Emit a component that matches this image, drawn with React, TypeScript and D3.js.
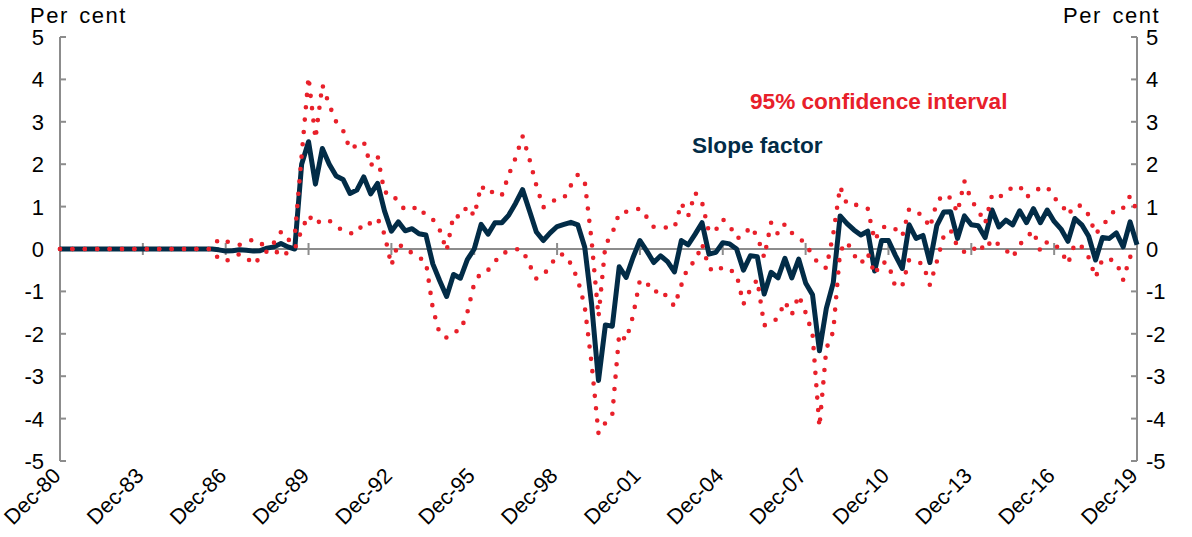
import React from 'react';
import * as d3 from 'd3';

const tickLabels = ['Dec-80','Dec-83','Dec-86','Dec-89','Dec-92','Dec-95','Dec-98','Dec-01','Dec-04','Dec-07','Dec-10','Dec-13','Dec-16','Dec-19'];
const yTicks = [5,4,3,2,1,0,-1,-2,-3,-4,-5];

const slopeFactor = [
  0,0,0,0,0,0,0,0,0,0,
  0,0,0,0,0,0,0,0,0,0,
  0,0,0,-0.02,-0.05,-0.04,-0.02,-0.03,-0.05,-0.04,
  0.02,0.05,0.13,0.05,0.0,2.0,2.53,1.53,2.37,2.0,
  1.72,1.64,1.31,1.39,1.70,1.3,1.55,0.9,0.42,0.64,
  0.43,0.48,0.36,0.33,-0.35,-0.75,-1.12,-0.6,-0.69,-0.25,
  0.0,0.58,0.35,0.62,0.62,0.8,1.08,1.4,0.9,0.4,
  0.2,0.38,0.53,0.58,0.63,0.57,0.05,-1.3,-3.1,-1.79,
  -1.82,-0.42,-0.67,-0.2,0.2,-0.05,-0.32,-0.16,-0.3,-0.54,
  0.2,0.1,0.35,0.62,-0.12,-0.08,0.15,0.12,0.0,-0.5,
  -0.16,-0.18,-1.06,-0.55,-0.68,-0.22,-0.68,-0.24,-0.8,-1.08,
  -2.4,-1.4,-0.8,0.78,0.6,0.45,0.33,0.42,-0.52,0.2,
  0.2,-0.15,-0.46,0.57,0.25,0.32,-0.32,0.55,0.87,0.88,
  0.25,0.78,0.57,0.55,0.27,0.92,0.52,0.68,0.57,0.9,
  0.62,0.95,0.62,0.92,0.65,0.47,0.18,0.72,0.57,0.3,
  -0.26,0.27,0.25,0.38,0.05,0.64,0.1
];

const upperBand = [
  0,0,0,0,0,0,0,0,0,0,
  0,0,0,0,0,0,0,0,0,0,
  0,0,0,0.24,0.18,0.15,0.1,0.15,0.23,0.12,
  0.1,0.15,0.4,0.2,0.3,2.2,4.06,2.6,3.87,3.4,
  3.0,2.8,2.35,2.45,2.53,1.96,2.2,1.33,1.33,1.1,
  0.92,0.95,1.0,0.78,0.7,0.45,-0.04,0.8,0.75,1.01,
  0.78,1.5,1.3,1.38,1.27,1.75,2.15,2.66,2.12,1.5,
  0.98,1.1,1.18,1.2,1.5,1.75,1.6,0.2,-1.6,0.1,
  0.37,0.85,0.88,0.9,0.96,0.75,0.52,0.53,0.5,0.5,
  1.08,0.78,1.33,1.1,0.4,0.45,0.7,0.55,0.25,0.3,
  0.53,0.3,-0.2,0.62,0.35,0.59,0.38,0.27,0.12,-0.15,
  -0.38,-0.45,0.35,1.47,1.05,1.05,1.02,0.95,0.2,0.5,
  0.55,0.47,0.3,0.95,0.86,0.8,0.5,1.1,1.29,1.2,
  0.86,1.6,1.15,0.92,0.6,1.27,1.2,1.38,1.44,1.49,
  1.22,1.35,1.44,1.47,1.2,1.08,0.8,1.03,1.02,0.8,
  0.35,0.55,0.75,0.97,0.97,1.25,0.9
];

const lowerBand = [
  0,0,0,0,0,0,0,0,0,0,
  0,0,0,0,0,0,0,0,0,0,
  0,0,0,-0.24,-0.29,-0.2,-0.12,-0.19,-0.37,-0.2,
  -0.05,0.0,-0.18,-0.08,0.0,0.45,0.8,0.58,0.7,0.67,
  0.55,0.42,0.37,0.37,0.63,0.6,0.72,0.35,-0.39,0.15,
  -0.05,-0.08,-0.2,-0.3,-1.4,-2.0,-2.09,-1.95,-1.93,-1.5,
  -0.81,-0.55,-0.5,-0.3,-0.1,-0.06,0.0,-0.02,-0.37,-0.7,
  -0.62,-0.4,-0.15,-0.12,-0.35,-0.72,-1.35,-2.7,-4.35,-4.1,
  -3.9,-2.0,-2.15,-1.58,-0.73,-0.8,-1.03,-0.95,-1.15,-1.35,
  -0.85,-0.4,-0.3,0.12,-0.45,-0.55,-0.42,-0.48,-0.6,-1.3,
  -0.95,-0.72,-1.8,-1.76,-1.62,-1.24,-1.55,-1.09,-1.5,-2.0,
  -4.2,-2.35,-1.95,-0.05,0.17,-0.14,-0.35,-0.1,-0.6,-0.3,
  -0.35,-0.9,-0.87,-0.25,-0.3,-0.35,-0.85,-0.3,0.3,0.45,
  0.05,-0.07,-0.09,0.13,-0.04,0.23,0.1,-0.02,-0.2,0.1,
  0.28,0.43,-0.05,0.17,0.13,-0.05,-0.35,0.13,0.05,-0.2,
  -0.67,-0.24,-0.24,-0.3,-0.73,-0.18,-0.35
];

const NAVY = '#022c47';
const RED = '#e8202a';
const GREY = '#8c8c8c';
const FONT = '"Liberation Sans", Arial, sans-serif';

export default function App() {
  const W = 1192, H = 537;
  const left = 60, right = 1137, top = 37, bottom = 461;
  const x = d3.scaleLinear().domain([0, slopeFactor.length - 1]).range([left, right]);
  const y = d3.scaleLinear().domain([-5, 5]).range([bottom, top]);
  const line = d3.line<number>().x((_, i) => x(i)).y(d => y(d));
  const y0 = y(0);

  return (
    <div style={{ position: 'absolute', left: 0, top: 0 }}>
      <svg width={W} height={H} style={{ display: 'block', background: '#fff' }} fontFamily={FONT}>
        <line x1={left} x2={right} y1={y0} y2={y0} stroke={GREY} strokeWidth={2} />
        {tickLabels.map((_, k) => (
          <line key={'xt' + k} x1={x(k * 12)} x2={x(k * 12)} y1={y0 - 6} y2={y0 + 6} stroke={GREY} strokeWidth={2} />
        ))}
        <line x1={left} x2={left} y1={top} y2={bottom} stroke={GREY} strokeWidth={2} />
        <line x1={right} x2={right} y1={top} y2={bottom} stroke={GREY} strokeWidth={2} />
        {yTicks.map(v => (
          <g key={'yt' + v}>
            <line x1={left} x2={left + 6} y1={y(v)} y2={y(v)} stroke={GREY} strokeWidth={2} />
            <line x1={right - 6} x2={right} y1={y(v)} y2={y(v)} stroke={GREY} strokeWidth={2} />
            <text x={44} y={y(v)} textAnchor="end" dy="0.36em" fontSize={22} fill="#000">{v}</text>
            <text x={1146} y={y(v)} textAnchor="start" dy="0.36em" fontSize={22} fill="#000">{v}</text>
          </g>
        ))}
        <path d={line(slopeFactor) || ''} fill="none" stroke={NAVY} strokeWidth={5} strokeLinejoin="round" />
        <path d={line(upperBand) || ''} fill="none" stroke={RED} strokeWidth={4.6} strokeLinecap="round" strokeDasharray="0 12.4" />
        <path d={line(lowerBand) || ''} fill="none" stroke={RED} strokeWidth={4.6} strokeLinecap="round" strokeDasharray="0 12.4" />
        {tickLabels.map((t, k) => (
          <text key={'xl' + k} transform={`translate(${x(k * 12) + 2},477) rotate(-45)`} textAnchor="end" fontSize={21.5} fill="#000">{t}</text>
        ))}
        <text x={30} y={23} fontSize={22} letterSpacing={1.5} wordSpacing={3} fill="#000">Per cent</text>
        <text x={1160} y={23} textAnchor="end" fontSize={22} letterSpacing={1.5} wordSpacing={3} fill="#000">Per cent</text>
        <text x={750} y={109} fontSize={22.6} fontWeight="bold" fill={RED}>95% confidence interval</text>
        <text x={692} y={153} fontSize={22.6} fontWeight="bold" fill={NAVY}>Slope factor</text>
      </svg>
    </div>
  );
}
